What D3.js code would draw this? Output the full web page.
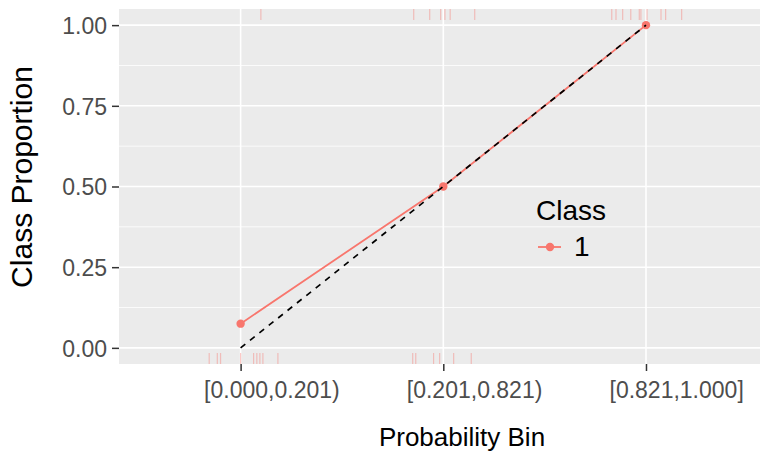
<!DOCTYPE html>
<html><head><meta charset="utf-8">
<script src="https://cdn.jsdelivr.net/npm/d3@7"></script>
<style>body{margin:0;background:#fff}svg{display:block}text{font-family:"Liberation Sans",Arial,Helvetica,sans-serif}</style>
</head><body><svg id="c" width="760" height="452"></svg>
<script>
const categories = ["[0.000,0.201)", "[0.201,0.821)", "[0.821,1.000]"];
const classProportion = [0.075, 0.5, 1.0];
const referenceLine = [0.0, 0.5, 1.0];
const yTicks = [0, 0.25, 0.5, 0.75, 1.0];
const yMinor = [0.125, 0.375, 0.625, 0.875];
// rug positions on the continuous version of the discrete x axis (class 0 bottom, class 1 top)
const rugBottom = [0.845, 0.885, 0.901, 1.000, 1.064, 1.080, 1.095, 1.110, 1.184, 1.849, 1.864, 1.952, 1.982, 2.051, 2.138];
const rugTop = [1.100, 1.854, 1.933, 1.987, 2.008, 2.034, 2.155, 2.831, 2.852, 2.885, 2.925, 2.967, 2.975, 3.005, 3.074, 3.097, 3.176];
const legendTitle = "Class";
const legendLabel = "1";
const red = "#F8766D";

const svg = d3.select("#c");
const L = 119, R = 767.6, T = 9, B = 364;
const x = d3.scalePoint().domain(categories).range([L, R]).padding(0.6);
const xc = d3.scaleLinear().domain([0.4, 3.6]).range([L, R]);
const y = d3.scaleLinear().domain([-0.05, 1.05]).range([B, T]);

svg.append("rect").attr("x", L).attr("y", T).attr("width", R - L).attr("height", B - T).attr("fill", "#EBEBEB");
const g = svg.append("g");
g.selectAll(".mn").data(yMinor).join("line").attr("x1", L).attr("x2", R)
  .attr("y1", d => y(d)).attr("y2", d => y(d)).attr("stroke", "#fff").attr("stroke-width", 0.8);
g.selectAll(".mj").data(yTicks).join("line").attr("x1", L).attr("x2", R)
  .attr("y1", d => y(d)).attr("y2", d => y(d)).attr("stroke", "#fff").attr("stroke-width", 1.6);
g.selectAll(".mx").data(categories).join("line").attr("y1", T).attr("y2", B)
  .attr("x1", d => x(d)).attr("x2", d => x(d)).attr("stroke", "#fff").attr("stroke-width", 1.6);

const rugLen = 11;
g.selectAll(".rb").data(rugBottom).join("line").attr("x1", d => xc(d)).attr("x2", d => xc(d))
  .attr("y1", B).attr("y2", B - rugLen).attr("stroke", red).attr("stroke-opacity", 0.4).attr("stroke-width", 1.2);
g.selectAll(".rt").data(rugTop).join("line").attr("x1", d => xc(d)).attr("x2", d => xc(d))
  .attr("y1", T).attr("y2", T + rugLen).attr("stroke", red).attr("stroke-opacity", 0.4).attr("stroke-width", 1.2);

const pts = categories.map((c, i) => ({c, v: classProportion[i], r: referenceLine[i]}));
g.append("path").datum(pts).attr("fill", "none").attr("stroke", red).attr("stroke-width", 1.8)
  .attr("d", d3.line().x(d => x(d.c)).y(d => y(d.v)));
g.selectAll(".pt").data(pts).join("circle").attr("cx", d => x(d.c)).attr("cy", d => y(d.v))
  .attr("r", 4.2).attr("fill", red);
g.append("path").datum(pts).attr("fill", "none").attr("stroke", "#000").attr("stroke-width", 1.7)
  .attr("stroke-dasharray", "6,6")
  .attr("d", d3.line().x(d => x(d.c)).y(d => y(d.r)));

// axes
const ya = svg.append("g").attr("transform", `translate(${L},0)`)
  .call(d3.axisLeft(y).tickValues(yTicks).tickFormat(d3.format(".2f")).tickSize(7).tickPadding(5));
const xa = svg.append("g").attr("transform", `translate(0,${B})`)
  .call(d3.axisBottom(x).tickSize(7).tickPadding(4));
[ya, xa].forEach(a => {
  a.select(".domain").remove();
  a.selectAll(".tick line").attr("stroke", "#333").attr("stroke-width", 1.5);
  a.selectAll(".tick text").attr("fill", "#4D4D4D").attr("font-size", 23);
});
ya.selectAll(".tick text").attr("dy", "0.36em");
xa.selectAll(".tick text").attr("dy", "1.0em").attr("text-anchor", "start").attr("x", -37);

svg.append("text").attr("x", 462).attr("y", 446).attr("text-anchor", "middle")
  .attr("font-size", 26).attr("fill", "#000").text("Probability Bin");
svg.append("text").attr("transform", `translate(32,177) rotate(-90)`).attr("text-anchor", "middle")
  .attr("font-size", 30).attr("fill", "#000").text("Class Proportion");

// legend
const lg = svg.append("g").attr("transform", "translate(536,220)");
lg.append("text").attr("x", 0).attr("y", 0).attr("font-size", 28).attr("fill", "#000").text(legendTitle);
lg.append("line").attr("x1", 2).attr("x2", 25).attr("y1", 27).attr("y2", 27).attr("stroke", red).attr("stroke-width", 1.8);
lg.append("circle").attr("cx", 14).attr("cy", 27).attr("r", 4.2).attr("fill", red);
lg.append("text").attr("x", 38).attr("y", 36).attr("font-size", 28).attr("fill", "#000").text(legendLabel);
</script></body></html>
